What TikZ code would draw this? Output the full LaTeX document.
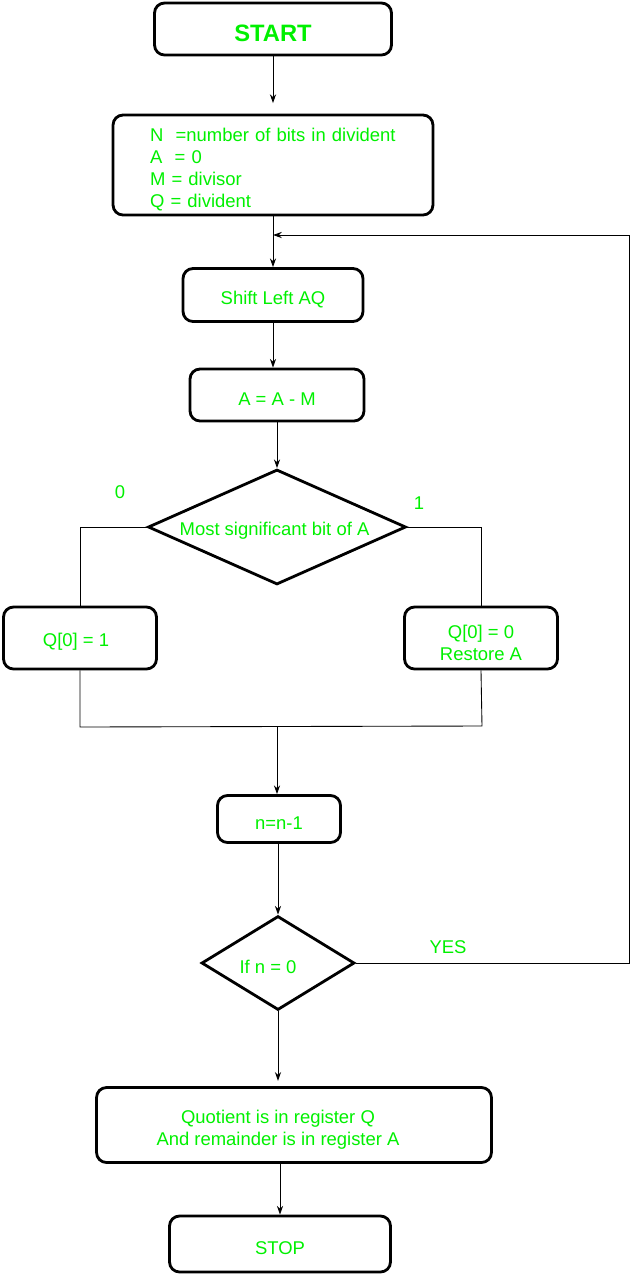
\documentclass[tikz,border=0pt]{standalone}
\usepackage{fontspec}
\setmainfont{Liberation Sans}
\usetikzlibrary{shapes.geometric,arrows.meta}
\definecolor{lime}{RGB}{0,240,0}
\newcommand{\droptext}{\rule{0pt}{13.3pt}}
\begin{document}
\begin{tikzpicture}[x=0.02cm,y=-0.02cm,
    box/.style={draw,line width=1.6pt,rounded corners=0.2cm,text=lime,
        font=\fontsize{10.5}{12.5}\selectfont,align=center,inner sep=0pt,
        execute at begin node={\rule{0pt}{12.3pt}}},
    test/.style={draw,line width=1.6pt,diamond,aspect=2.2,inner sep=0pt,text=lime,
        font=\fontsize{10.5}{12.5}\selectfont,execute at begin node={\rule{0pt}{12.3pt}}},
    arr/.style={line width=0.5pt,-{Stealth[length=5pt,width=3.5pt]}},
    wire/.style={line width=0.5pt},
    tag/.style={text=lime,font=\fontsize{10.5}{12.5}\selectfont}]
    \useasboundingbox (0,0) rectangle (631,1276);
    \node[box,minimum width=4.74cm,minimum height=1.04cm,font=\fontsize{13.5}{15}\selectfont\bfseries,
        execute at begin node={\rule{0pt}{14.5pt}}] (start) at (273,29) {START};
    \node[box,minimum width=6.4cm,minimum height=2cm,align=left,text width=4.92cm,inner xsep=0.74cm] (init) at (273,165)
        {N\ \ =number of bits in divident\\A\ \ = 0\\M = divisor\\Q = divident};
    \node[box,minimum width=3.6cm,minimum height=1.06cm] (shift) at (273,295) {Shift Left AQ};
    \node[box,minimum width=3.48cm,minimum height=1.04cm] (sub) at (277,395) {A = A - M};
    \node[test,minimum width=5.16cm,minimum height=2.3cm] (msb) at (277,527) {\hspace*{-0.1cm}Most significant bit of A};
    \node[tag] (zero) at (120,492) {0};
    \node[tag] (one) at (419,503) {1};
    \node[box,minimum width=3.06cm,minimum height=1.24cm] (qone) at (80,638) {\hspace*{-0.16cm}Q[0] = 1};
    \node[box,minimum width=3.06cm,minimum height=1.24cm] (qzero) at (481,638) {\droptext Q[0] = 0\\Restore A};
    \node[box,minimum width=2.46cm,minimum height=0.94cm] (dec) at (279,819) {n=n-1};
    \node[test,minimum width=3.06cm,minimum height=1.88cm] (check) at (278,963) {\hspace*{-0.4cm}If n = 0};
    \node[tag] (yes) at (448,947) {YES};
    \node[box,minimum width=7.9cm,minimum height=1.5cm] (result) at (294,1125)
        {\droptext\hspace*{-0.64cm}Quotient is in register Q\\\hspace*{-0.64cm}And remainder is in register A};
    \node[box,minimum width=4.42cm,minimum height=1.12cm] (stop) at (280,1244) {STOP};
    \coordinate (jl) at (80,727);
    \coordinate (jr) at (482,726);
    \coordinate (jm) at (277,727);
    \coordinate (back) at (629,235);
    % arrows
    \draw[arr,shorten >=6pt] (start) -- (init);
    \draw[arr] (init) -- (shift);
    \draw[arr] (shift.south) -- (shift.south |- sub.north);
    \draw[arr] (sub) -- (msb);
    \draw[wire] (msb.west) -| (qone.north);
    \draw[wire] (msb.east) -| (qzero.north);
    \draw[wire] (qone.south) -- (jl) -- (jr) -- (qzero.south);
    \draw[arr] (jm) -- (jm |- dec.north);
    \draw[arr] (dec.south) -- (dec.south -| check.north) -- (check.north);
    \draw[arr] (check.east) -| (back) -- (init.south |- back);
    \draw[arr,shorten >=3pt] (check.south) -- (check.south |- result.north);
    \draw[arr] (stop.north |- result.south) -- (stop.north);
\end{tikzpicture}
\end{document}
